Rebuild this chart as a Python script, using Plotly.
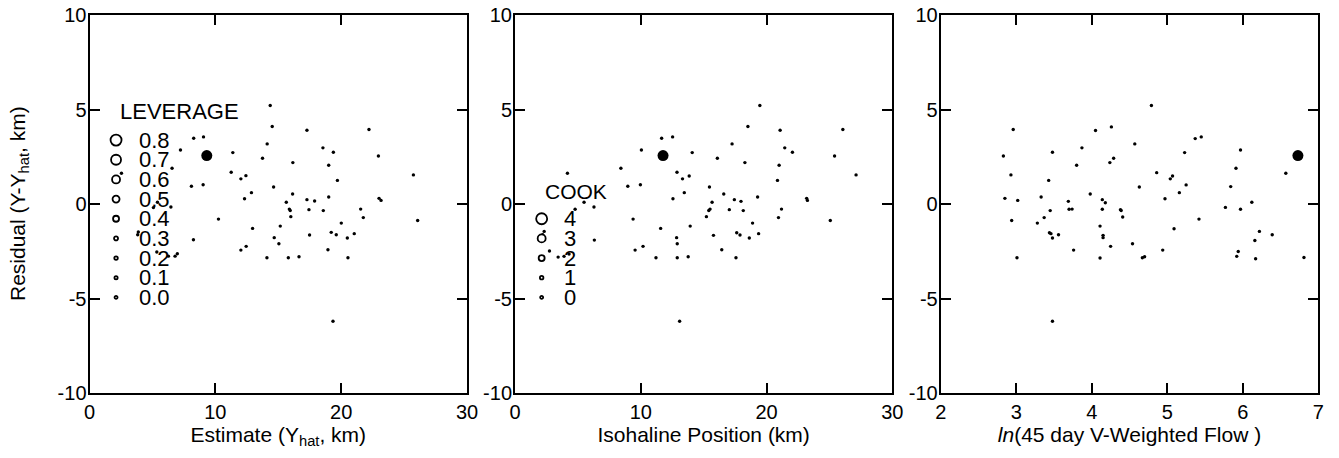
import plotly.graph_objects as go

# ---------------- data ----------------
# Panel 1: Estimate (Y_hat, km) vs residual
est_x = [14.36, 14.52, 17.28, 22.21, 8.28, 9.06, 14.12, 7.23, 9.32, 11.39,
         18.55, 19.38, 13.75, 22.96, 16.16, 19.01, 6.56, 11.26, 12.43, 12.03,
         19.70, 25.74, 8.10, 9.03, 14.63, 12.87, 16.14, 12.32, 17.28, 17.89,
         19.01, 23.01, 23.17, 15.64, 15.88, 15.95, 17.44, 18.58, 21.55, 6.47,
         5.08, 10.25, 16.00, 20.01, 21.76, 26.08, 12.96, 15.16, 14.68, 15.05,
         17.49, 19.21, 19.61, 20.49, 21.04, 8.26, 12.03, 12.45, 18.95, 14.10,
         15.80, 16.65, 20.54, 19.35, 3.88, 5.35, 6.27, 6.80, 6.98, 2.54,
         5.40, 3.83]
est_res = [5.21, 4.10, 3.90, 3.94, 3.48, 3.55, 3.18, 2.86, 2.56, 2.72,
           2.97, 2.74, 2.42, 2.54, 2.19, 2.05, 1.89, 1.68, 1.50, 1.33,
           1.25, 1.54, 0.94, 1.02, 0.90, 0.60, 0.53, 0.28, 0.23, 0.16,
           0.37, 0.30, 0.19, 0.09, -0.27, -0.34, -0.30, -0.35, -0.27, -0.16,
           -0.19, -0.80, -0.67, -1.01, -0.72, -0.87, -1.29, -1.17, -1.78, -2.10,
           -1.64, -1.50, -1.63, -1.80, -1.57, -1.89, -2.44, -2.24, -2.42, -2.84,
           -2.84, -2.79, -2.84, -6.20, -1.48, -2.54, -2.76, -2.76, -2.63, 1.63,
           0.09, -1.63]
est_flag = 8  # index of the highlighted (large) point

# Panel 2: Isohaline Position (km) vs residual
iso_x = [19.47, 18.52, 21.08, 26.07, 11.66, 12.53, 17.26, 10.05, 11.77, 14.09,
         21.45, 22.06, 16.09, 25.41, 18.28, 21.00, 8.42, 12.88, 13.85, 13.32,
         20.87, 27.12, 4.17, 8.97, 9.97, 15.46, 13.46, 16.60, 12.56, 17.44,
         17.97, 19.29, 23.19, 23.25, 15.67, 15.51, 15.41, 17.04, 18.15, 21.19,
         6.28, 5.49, 4.78, 9.39, 15.22, 18.89, 20.95, 25.07, 13.93, 11.58,
         12.85, 12.90, 17.63, 17.89, 19.37, 18.63, 15.78, 6.31, 9.55, 10.18,
         16.44, 11.21, 12.90, 13.77, 17.57, 13.09, 2.74, 3.43, 3.90, 2.32,
         2.20, 4.30]
iso_res = [5.21, 4.10, 3.90, 3.94, 3.48, 3.55, 3.18, 2.86, 2.56, 2.72,
           2.97, 2.74, 2.42, 2.54, 2.19, 2.05, 1.89, 1.68, 1.48, 1.33,
           1.25, 1.54, 1.63, 0.94, 1.02, 0.90, 0.60, 0.53, 0.28, 0.23,
           0.14, 0.37, 0.30, 0.19, 0.09, -0.27, -0.34, -0.30, -0.35, -0.27,
           -0.16, 0.09, -0.28, -0.80, -0.67, -1.01, -0.72, -0.87, -1.17, -1.29,
           -1.78, -2.10, -1.52, -1.64, -1.57, -1.80, -1.66, -1.91, -2.44, -2.24,
           -2.42, -2.84, -2.84, -2.79, -2.84, -6.20, -2.49, -2.81, -2.77, -1.45,
           -1.63, -2.65]
iso_flag = 8

# Panel 3: ln(45 day V-Weighted Flow) vs residual
flow_x = [2.83, 2.96, 2.93, 2.85, 3.02, 2.94, 3.01, 3.28, 3.33, 3.37,
          3.43, 3.45, 3.48, 3.44, 3.46, 3.48, 3.56, 3.48, 3.76, 3.80,
          3.87, 3.69, 3.70, 3.74, 3.98, 4.05, 4.26, 4.14, 4.18, 4.14,
          4.11, 4.15, 4.15, 4.11, 4.24, 4.29, 4.25, 4.38, 4.39, 4.41,
          4.54, 4.57, 4.63, 4.67, 4.70, 4.79, 4.86, 4.94, 4.97, 5.04,
          5.07, 5.09, 5.16, 5.23, 5.25, 5.37, 5.45, 5.42, 5.77, 5.84,
          5.91, 5.97, 5.97, 5.94, 5.92, 6.12, 6.16, 6.22, 6.17, 6.39,
          6.57, 6.73, 6.81]
flow_res = [2.54, 3.94, 1.54, 0.30, 0.19, -0.87, -2.84, -1.01, 0.37, -0.72,
            1.25, -0.35, 2.74, -1.52, -1.57, -1.80, -1.63, -6.20, -2.44, 2.05,
            2.97, 0.14, -0.28, -0.27, 0.53, 3.89, 4.08, 0.23, 0.07, -0.28,
            -1.17, -1.66, -1.78, -2.86, 2.19, 2.42, -2.24, -0.30, -0.34, -0.69,
            -2.10, 3.18, 0.90, -2.84, -2.79, 5.21, 1.66, -2.44, 0.28, 1.33,
            1.48, -1.31, 0.60, 2.72, 1.01, 3.46, 3.55, -0.80, -0.18, 0.92,
            1.89, 2.86, -0.28, -2.51, -2.77, 0.09, -1.93, -1.45, -2.90, -1.63,
            1.63, 2.56, -2.83]
flow_flag = 71

# Legend keys drawn inside panels
leverage_levels = ["0.8", "0.7", "0.6", "0.5", "0.4", "0.3", "0.2", "0.1", "0.0"]
leverage_sizes = [11, 10, 8, 7, 6, 4, 3.5, 3.2, 3]
cook_levels = ["4", "3", "2", "1", "0"]
cook_sizes = [11, 8, 6, 3.5, 3]

# Tick labels (hyphen minus as in the reference)
y_ticks = [-10, -5, 0, 5, 10]
y_ticklabels = ["-10", "-5", "0", "5", "10"]

# ---------------- styling ----------------
FONT = "Liberation Sans, Arial, sans-serif"
# page body adds ~8px offset; figure coordinates below compensate for it
W, H = 1323, 442
PLOT_L = [81.5, 507.0, 932.7]
PLOT_R = [459.0, 884.3, 1310.3]
doms = [(l / W, r / W) for l, r in zip(PLOT_L, PLOT_R)]

fig = go.Figure()

panels = [
    (est_x, est_res, est_flag, "x", "y"),
    (iso_x, iso_res, iso_flag, "x2", "y2"),
    (flow_x, flow_res, flow_flag, "x3", "y3"),
]
for xs, ys, flag, xa, ya in panels:
    sizes = [11 if i == flag else 3.4 for i in range(len(xs))]
    fig.add_trace(go.Scatter(
        x=xs, y=ys, mode="markers", xaxis=xa, yaxis=ya,
        marker=dict(size=sizes, color="black", opacity=1, line=dict(width=0)),
        showlegend=False, hoverinfo="x+y"))

# Leverage key (panel 1)
lev_x0, lev_y0, step = 2.11, 3.38, -1.04
lev_y = [lev_y0 + i * step for i in range(len(leverage_levels))]
fig.add_trace(go.Scatter(
    x=[lev_x0] * len(leverage_levels), y=lev_y, mode="markers",
    xaxis="x", yaxis="y", showlegend=False, hoverinfo="skip",
    marker=dict(size=leverage_sizes, color="white", opacity=1,
                line=dict(color="black", width=1.8))))
for lab, yy in zip(leverage_levels, lev_y):
    fig.add_annotation(x=3.75, y=yy, xref="x", yref="y", text=lab,
                       showarrow=False, xanchor="left", yanchor="middle",
                       font=dict(family=FONT, size=22, color="black"))
fig.add_annotation(x=2.25, y=4.88, xref="x", yref="y", text="LEVERAGE",
                   showarrow=False, xanchor="left", yanchor="middle",
                   font=dict(family=FONT, size=22, color="black"))

# Cook key (panel 2)
cook_y = [lev_y[4 + i] for i in range(len(cook_levels))]
fig.add_trace(go.Scatter(
    x=[2.12] * len(cook_levels), y=cook_y, mode="markers",
    xaxis="x2", yaxis="y2", showlegend=False, hoverinfo="skip",
    marker=dict(size=cook_sizes, color="white", opacity=1,
                line=dict(color="black", width=1.8))))
for lab, yy in zip(cook_levels, cook_y):
    fig.add_annotation(x=3.7, y=yy, xref="x2", yref="y2", text=lab,
                       showarrow=False, xanchor="left", yanchor="middle",
                       font=dict(family=FONT, size=22, color="black"))
fig.add_annotation(x=2.2, y=0.64, xref="x2", yref="y2", text="COOK",
                   showarrow=False, xanchor="left", yanchor="middle",
                   font=dict(family=FONT, size=21, color="black"))

# Y-axis title (panel 1)
fig.add_annotation(x=11 / W, y=0.5, xref="paper", yref="paper",
                   text="Residual (Y-Y<sub>hat</sub>, km)", textangle=-90,
                   showarrow=False, xanchor="center", yanchor="middle",
                   font=dict(family=FONT, size=21, color="black"))

axis_common = dict(
    showline=True, linecolor="black", linewidth=2, mirror="ticks",
    ticks="inside", ticklen=10, tickwidth=1.8, tickcolor="black",
    showgrid=False, zeroline=False, automargin=False,
    ticklabeloverflow="allow",
    tickfont=dict(family=FONT, size=20, color="black"),
)
title_font = dict(family=FONT, size=21, color="black")

xtitles = ["Estimate (Y<sub>hat</sub>, km)", "Isohaline Position (km)",
           "<i>ln</i>(45 day V-Weighted Flow )"]
xranges = [[0, 30], [0, 30], [2, 7]]
xdticks = [10, 10, 1]

layout = dict(
    width=W, height=H, paper_bgcolor="white", plot_bgcolor="white",
    margin=dict(l=0, r=0, t=7, b=57, autoexpand=False), showlegend=False,
    font=dict(family=FONT, color="black"),
)
for i in range(3):
    sfx = "" if i == 0 else str(i + 1)
    layout["xaxis" + sfx] = dict(
        axis_common, domain=list(doms[i]), range=xranges[i], dtick=xdticks[i],
        tick0=xranges[i][0], anchor="y" + sfx,
        title=dict(text=xtitles[i], font=title_font, standoff=5))
    layout["yaxis" + sfx] = dict(
        axis_common, domain=[0, 1], range=[-10, 10],
        tickmode="array", tickvals=y_ticks, ticktext=y_ticklabels,
        ticklabelstandoff=-3, anchor="x" + sfx)

fig.update_layout(**layout)
fig.write_html("out.html")
